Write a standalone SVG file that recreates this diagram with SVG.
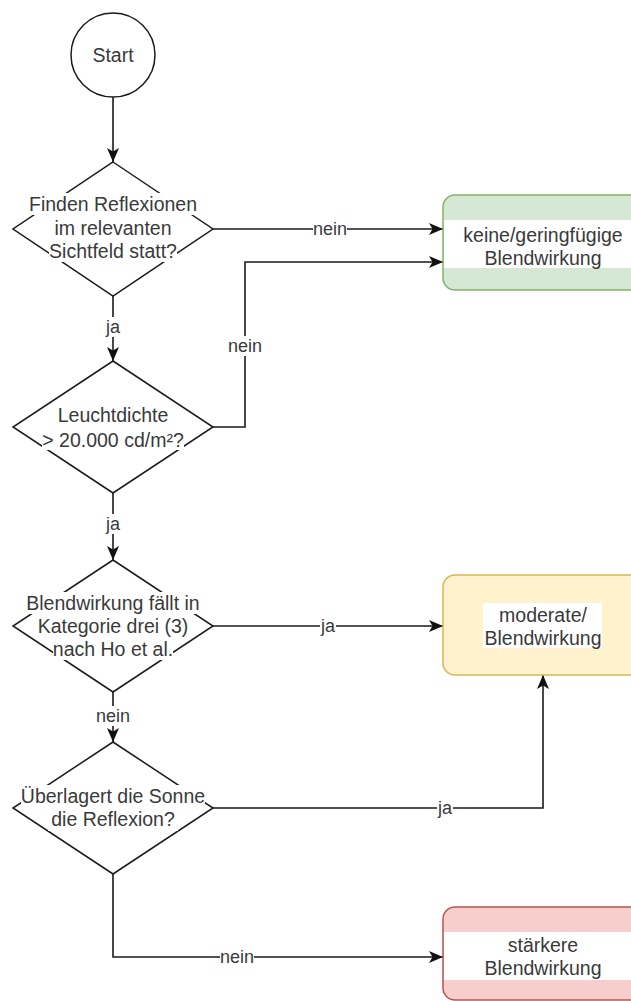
<svg xmlns="http://www.w3.org/2000/svg" width="631" height="1001" viewBox="0 0 631 1001">
<style>
.shape{fill:#fff;stroke:#1a1a1a;stroke-width:1.5}
.t{font-family:"Liberation Sans",Arial,sans-serif;font-size:19.5px;fill:#3a3a3a;text-anchor:middle;dominant-baseline:central}
.lbl{font-family:"Liberation Sans",Arial,sans-serif;font-size:18px;fill:#3a3a3a;text-anchor:middle;dominant-baseline:central}
.bg{fill:#fff}
.edge{fill:none;stroke:#1a1a1a;stroke-width:1.6}
</style>
<defs>
<marker id="arr" markerUnits="userSpaceOnUse" markerWidth="16" markerHeight="14" refX="14" refY="6" orient="auto">
<path d="M0,0 L14,6 L0,12 L3.5,6 Z" fill="#111"/>
</marker>
</defs>
<rect width="631" height="1001" fill="#fff"/>

<g id="connectors">
<path class="edge" d="M113,97 L113,162" marker-end="url(#arr)"/>
<path class="edge" d="M213,229 L443,229" marker-end="url(#arr)"/>
<path class="edge" d="M113,296 L113,361" marker-end="url(#arr)"/>
<path class="edge" d="M213,427 L245,427 L245,262 L443,262" marker-end="url(#arr)"/>
<path class="edge" d="M113,493 L113,560" marker-end="url(#arr)"/>
<path class="edge" d="M213,626 L443,626" marker-end="url(#arr)"/>
<path class="edge" d="M113,692 L113,742" marker-end="url(#arr)"/>
<path class="edge" d="M213,808 L543,808 L543,675" marker-end="url(#arr)"/>
<path class="edge" d="M113,874 L113,957 L443,957" marker-end="url(#arr)"/>
<g id="edge-labels">
<rect class="bg" x="313" y="219" width="34" height="20"/><text class="lbl" x="330" y="229">nein</text>
<rect class="bg" x="105" y="317" width="16" height="20"/><text class="lbl" x="113" y="327">ja</text>
<rect class="bg" x="228" y="336" width="34" height="20"/><text class="lbl" x="245" y="346">nein</text>
<rect class="bg" x="105" y="514" width="16" height="20"/><text class="lbl" x="113" y="524">ja</text>
<rect class="bg" x="320" y="616" width="16" height="20"/><text class="lbl" x="328" y="626">ja</text>
<rect class="bg" x="96" y="706" width="34" height="20"/><text class="lbl" x="113" y="716">nein</text>
<rect class="bg" x="437" y="798" width="16" height="20"/><text class="lbl" x="445" y="808">ja</text>
<rect class="bg" x="220" y="947" width="34" height="20"/><text class="lbl" x="237" y="957">nein</text>
</g>
</g>

<g id="start">
<circle class="shape" cx="113" cy="55" r="42"/>
<text class="t" x="113" y="55">Start</text>
</g>

<g id="d1">
<polygon class="shape" points="113,162 213,229 113,296 13,229"/>
<rect class="bg" x="29" y="193" width="168" height="22"/>
<rect class="bg" x="54" y="217" width="117" height="22"/>
<rect class="bg" x="49" y="240" width="128" height="22"/>
<text class="t" x="113" y="204">Finden Reflexionen</text>
<text class="t" x="113" y="228">im relevanten</text>
<text class="t" x="113" y="251">Sichtfeld statt?</text>
</g>

<g id="green">
<rect x="443" y="195" width="200" height="95" rx="12" fill="#d5e8d4"/>
<rect class="bg" x="444" y="220" width="200" height="48"/>
<rect x="443" y="195" width="200" height="95" rx="12" fill="none" stroke="#82b366" stroke-width="1.5"/>
<text class="t" x="543" y="235">keine/geringfügige</text>
<text class="t" x="543" y="258">Blendwirkung</text>
</g>

<g id="d2">
<polygon class="shape" points="113,361 213,427 113,493 13,427"/>
<rect class="bg" x="57" y="404" width="112" height="22"/>
<rect class="bg" x="42" y="428" width="142" height="22"/>
<text class="t" x="113" y="415">Leuchtdichte</text>
<text class="t" x="113" y="440">&gt; 20.000 cd/m²?</text>
</g>

<g id="d3">
<polygon class="shape" points="113,560 213,626 113,692 13,626"/>
<rect class="bg" x="26" y="592" width="175" height="22"/>
<rect class="bg" x="38" y="615" width="151" height="22"/>
<rect class="bg" x="53" y="638" width="120" height="22"/>
<text class="t" x="113" y="603">Blendwirkung fällt in</text>
<text class="t" x="113" y="626">Kategorie drei (3)</text>
<text class="t" x="113" y="649">nach Ho et al.</text>
</g>

<g id="yellow">
<rect x="443" y="575" width="200" height="100" rx="12" fill="#fff2cc" stroke="#d6b656" stroke-width="1.5"/>
<rect class="bg" x="483" y="603" width="119" height="45"/>
<text class="t" x="543" y="615">moderate/</text>
<text class="t" x="543" y="638">Blendwirkung</text>
</g>

<g id="d4">
<polygon class="shape" points="113,742 213,808 113,874 13,808"/>
<rect class="bg" x="21" y="785" width="184" height="22"/>
<rect class="bg" x="48" y="809" width="130" height="22"/>
<text class="t" x="113" y="796">Überlagert die Sonne</text>
<text class="t" x="113" y="819">die Reflexion?</text>
</g>

<g id="red">
<rect x="443" y="907" width="200" height="93" rx="12" fill="#f8cecc"/>
<rect class="bg" x="444" y="932" width="200" height="48"/>
<rect x="443" y="907" width="200" height="93" rx="12" fill="none" stroke="#b85450" stroke-width="1.5"/>
<text class="t" x="543" y="945">stärkere</text>
<text class="t" x="543" y="968">Blendwirkung</text>
</g>
</svg>
